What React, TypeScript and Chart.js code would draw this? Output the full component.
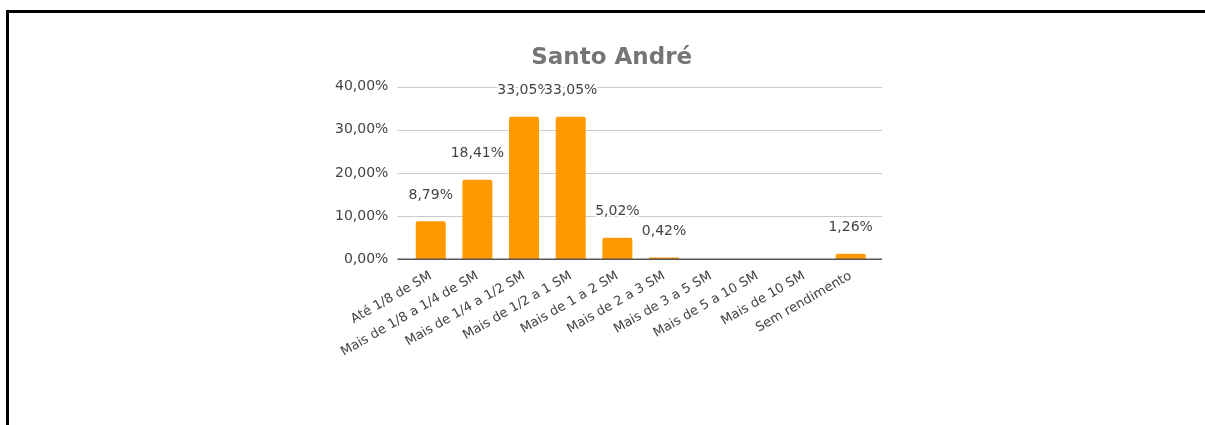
import React, { useEffect, useRef } from "react";
import { Chart, registerables } from "chart.js";

Chart.register(...registerables);

const categories: string[] = [
  "Até 1/8 de SM",
  "Mais de 1/8 a 1/4 de SM",
  "Mais de 1/4 a 1/2 SM",
  "Mais de 1/2 a 1 SM",
  "Mais de 1 a 2 SM",
  "Mais de 2 a 3 SM",
  "Mais de 3 a 5 SM",
  "Mais de 5 a 10 SM",
  "Mais de 10 SM",
  "Sem rendimento",
];
const values: number[] = [8.79, 18.41, 33.05, 33.05, 5.02, 0.42, 0, 0, 0, 1.26];
const yTicks: number[] = [0, 10, 20, 30, 40];
const chartTitle = "Santo André";

const fmt = (v: number) => v.toFixed(2).replace(".", ",") + "%";

const FONT = "'DejaVu Sans', 'Noto Sans', Arial, sans-serif";

const gridPlugin = {
  id: "extendedGrid",
  beforeDatasetsDraw(chart: any) {
    const { ctx, chartArea, scales } = chart;
    const y = scales.y;
    ctx.save();
    ctx.strokeStyle = "#cccccc";
    ctx.lineWidth = 1;
    y.ticks.forEach((t: any) => {
      if (t.value === 0) return;
      const py = Math.round(y.getPixelForValue(t.value)) + 0.5;
      ctx.beginPath();
      ctx.moveTo(chartArea.left - 10, py);
      ctx.lineTo(chartArea.right + 8, py);
      ctx.stroke();
    });
    ctx.restore();
  },
  afterDatasetsDraw(chart: any) {
    const { ctx, chartArea, scales } = chart;
    const y = scales.y;
    ctx.save();
    ctx.strokeStyle = "#555555";
    ctx.lineWidth = 1.5;
    const py = y.getPixelForValue(0);
    ctx.beginPath();
    ctx.moveTo(chartArea.left - 10, py);
    ctx.lineTo(chartArea.right + 8, py);
    ctx.stroke();

    // value annotations
    const meta = chart.getDatasetMeta(0);
    ctx.font = `14px ${FONT}`;
    ctx.textAlign = "center";
    ctx.textBaseline = "middle";
    ctx.lineJoin = "round";
    meta.data.forEach((bar: any, i: number) => {
      const v = values[i];
      if (!v) return;
      const tx = bar.x;
      const ty = bar.y - 26.5;
      const s = fmt(v);
      ctx.strokeStyle = "#ffffff";
      ctx.lineWidth = 4;
      ctx.strokeText(s, tx, ty);
      ctx.fillStyle = "#444444";
      ctx.fillText(s, tx, ty);
    });

    // title
    ctx.font = `bold 23px ${FONT}`;
    ctx.fillStyle = "#757575";
    ctx.textAlign = "center";
    ctx.textBaseline = "alphabetic";
    ctx.fillText(chartTitle, (chartArea.left + chartArea.right) / 2 - 29, 63.5);
    ctx.restore();
  },
};

export default function App() {
  const ref = useRef<HTMLCanvasElement | null>(null);
  useEffect(() => {
    if (!ref.current) return;
    const chart = new Chart(ref.current, {
      type: "bar",
      data: {
        labels: categories,
        datasets: [
          {
            data: values,
            backgroundColor: "#ff9900",
            borderRadius: 2,
            borderSkipped: "bottom",
            categoryPercentage: 1,
            barPercentage: 0.643,
          },
        ],
      },
      options: {
        responsive: false,
        animation: false,
        events: [],
        layout: { padding: { left: 317.4, right: 331, top: 86.7, bottom: 45.7 } },
        plugins: {
          legend: { display: false },
          tooltip: { enabled: false },
          title: { display: false },
        },
        scales: {
          x: {
            offset: true,
            grid: { display: false, drawTicks: false },
            border: { display: false },
            ticks: {
              autoSkip: false,
              minRotation: 30,
              maxRotation: 30,
              padding: 9,
              color: "#444444",
              font: { family: FONT, size: 13 },
            },
            afterFit: (s: any) => {
              s.height = 120;
            },
          },
          y: {
            min: 0,
            max: 40,
            afterBuildTicks: (s: any) => {
              s.ticks = yTicks.map((v) => ({ value: v }));
            },
            grid: { display: false, drawTicks: false },
            border: { display: false },
            ticks: {
              padding: 19,
              color: "#444444",
              font: { family: FONT, size: 14 },
              callback: (v: any) => fmt(Number(v)),
            },
            afterFit: (s: any) => {
              s.width = 90;
            },
          },
        },
      },
      plugins: [gridPlugin],
    });
    return () => chart.destroy();
  }, []);

  return (
    <div
      style={{
        position: "fixed",
        left: 0,
        top: 0,
        width: 1205,
        height: 425,
        overflow: "hidden",
        background: "#ffffff",
      }}
    >
      <div
        style={{
          position: "absolute",
          left: 6,
          top: 10,
          width: 1400,
          height: 600,
          borderTop: "3px solid #000",
          borderLeft: "3px solid #000",
        }}
      />
      <canvas
        ref={ref}
        width={1205}
        height={425}
        style={{ position: "absolute", left: 0, top: 0, width: 1205, height: 425 }}
      />
    </div>
  );
}
